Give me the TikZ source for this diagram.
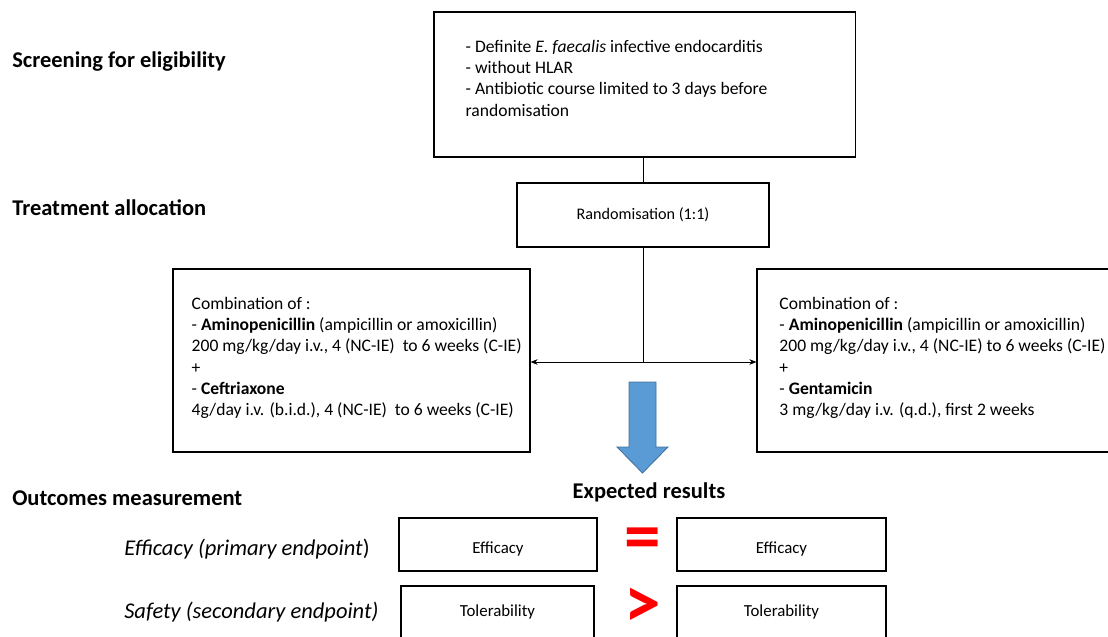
\documentclass[tikz,border=0pt]{standalone}
\usepackage{fontspec}
\setmainfont{Carlito}
\usepackage{tikz}
\usetikzlibrary{positioning}
\usetikzlibrary{arrows.meta}
\definecolor{arrowblue}{HTML}{5B9BD5}
\definecolor{arrowedge}{HTML}{41719C}
\definecolor{signred}{HTML}{FF0000}

\begin{document}
\begin{tikzpicture}[x=0.025cm, y=-0.025cm,
    box/.style={draw, rectangle, line width=0.8pt, inner sep=0pt},
    boxtext/.style={inner sep=0pt, align=left, font=\fontsize{12.5}{15.1}\selectfont},
    heading/.style={anchor=west, inner sep=0pt, font=\fontsize{16}{19}\selectfont\bfseries},
    endpoint/.style={anchor=west, inner sep=0pt, font=\fontsize{16}{19}\selectfont},
    result/.style={box, minimum height=1.325cm, text depth=0pt, font=\fontsize{12}{14}\selectfont},
    sign/.style={inner sep=0pt, text=signred, font=\fontsize{52}{56}\selectfont\bfseries},
    link/.style={line width=0.6pt}]
    \useasboundingbox (0,0) rectangle (1108,636);

    % Stage titles
    \node (screening) [heading] at (12,62) {Screening for eligibility};
    \node (allocation) [heading] at (12,208) {Treatment allocation};
    \node (outcomes) [heading] at (12,498) {Outcomes measurement};

    % Eligibility and randomisation
    \node (eligible) [box, minimum width=10.525cm, minimum height=3.625cm] at (644.5,84.5) {};
    \node (eligibletext) [boxtext, below right=0.71cm and 0.8cm of eligible.north west]
        {- Definite \textit{E. faecalis} infective endocarditis\\
         - without HLAR\\
         - Antibiotic course limited to 3 days before\\
         randomisation};
    \node (rand) [box, minimum width=6.3cm, minimum height=1.6cm, font=\fontsize{11.5}{14}\selectfont] at (643,215) {Randomisation (1:1)};

    % Treatment arms
    \node (leftarm) [box, minimum width=8.925cm, minimum height=4.575cm] at (351.5,360.5) {};
    \node (leftarmtext) [boxtext, below right=0.71cm and 0.475cm of leftarm.north west]
        {Combination of :\\
         - \textbf{Aminopenicillin} (ampicillin or amoxicillin)\\
         200 mg/kg/day i.v., 4 (NC-IE)\ \ to 6 weeks (C-IE)\\
         +\\
         - \textbf{Ceftriaxone}\\
         4g/day i.v. (b.i.d.), 4 (NC-IE)\ \ to 6 weeks (C-IE)};
    \node (rightarm) [box, minimum width=8.875cm, minimum height=4.575cm] at (934.5,360.5) {};
    \node (rightarmtext) [boxtext, below right=0.71cm and 0.57cm of rightarm.north west]
        {Combination of :\\
         - \textbf{Aminopenicillin} (ampicillin or amoxicillin)\\
         200 mg/kg/day i.v., 4 (NC-IE) to 6 weeks (C-IE)\\
         +\\
         - \textbf{Gentamicin}\\
         3 mg/kg/day i.v. (q.d.), first 2 weeks};

    % Connectors
    \coordinate (split) at (643,362);
    \draw[link] (eligible.south -| rand.north) -- (rand.north);
    \draw[link] (rand.south) -- (split);
    \draw[link, -{Stealth[length=5pt, width=4pt]}] (split) -- (split -| leftarm.east);
    \draw[link, -{Stealth[length=5pt, width=4pt]}] (split) -- (split -| rightarm.west);

    % Big arrow to results
    \filldraw[fill=arrowblue, draw=arrowedge, line width=0.6pt]
        (629,382) -- (656,382) -- (656,447) -- (668,447) -- (642.5,473)
        -- (617,447) -- (629,447) -- cycle;
    \node (expected) [inner sep=0pt, font=\fontsize{16}{19}\selectfont\bfseries] at (649,492) {Expected results};

    % Endpoints
    \node (efficacylabel) [endpoint] at (124,549) {\textit{Efficacy (primary endpoint})};
    \node (safetylabel) [endpoint] at (124,612) {\textit{Safety (secondary endpoint)}};
    \node (effleft) [result, text height=13pt, minimum width=4.95cm] at (498,544.5) {Efficacy};
    \node (effright) [result, text height=13pt, minimum width=5.225cm] at (781.5,544.5) {Efficacy};
    \node (tolleft) [result, text height=6pt, minimum width=4.825cm] at (497.5,612.5) {Tolerability};
    \node (tolright) [result, text height=6pt, minimum width=5.225cm] at (781.5,612.5) {Tolerability};
    \node (equal) [sign] at (643,544) {=};
    \node (better) [sign] at (643,608) {>};
\end{tikzpicture}
\end{document}
